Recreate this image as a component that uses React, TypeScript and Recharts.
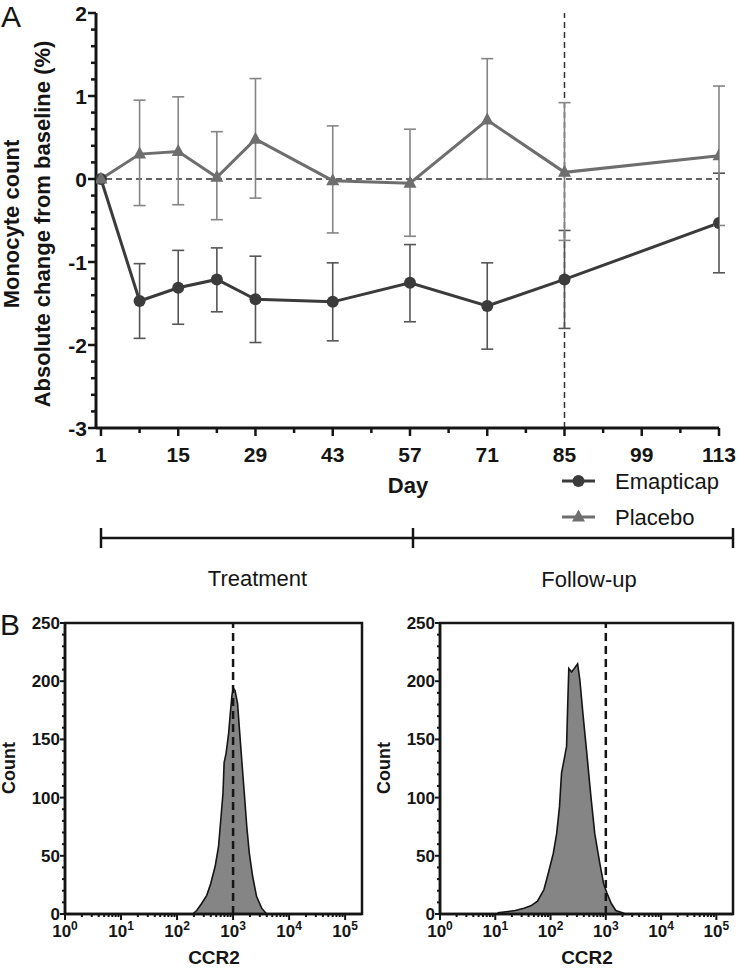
import React from 'react';
import {
  LineChart,
  Line,
  XAxis,
  YAxis,
  ErrorBar,
  ReferenceLine,
  AreaChart,
  Area,
  ReferenceArea,
} from 'recharts';

const FONT = '"Liberation Sans", Arial, Helvetica, sans-serif';
const EMP_COLOR = '#3b3b3b';
const EMP_ERR = '#555555';
const PLA_COLOR = '#6e6e6e';
const PLA_ERR = '#858585';
const INK = '#151515';

// ---- Panel A data ----
const days = [1, 8, 15, 22, 29, 43, 57, 71, 85, 113];
const emapticap = [0, -1.47, -1.31, -1.21, -1.45, -1.48, -1.25, -1.53, -1.21, -0.53];
const emapticapErrLow = [null, 0.45, 0.44, 0.39, 0.52, 0.47, 0.47, 0.52, 0.59, 0.6];
const emapticapErrHigh = [null, 0.45, 0.45, 0.38, 0.52, 0.47, 0.46, 0.52, 0.59, 0.6];
const placebo = [0, 0.3, 0.33, 0.02, 0.48, -0.02, -0.05, 0.71, 0.08, 0.28];
const placeboErrLow = [null, 0.62, 0.64, 0.51, 0.71, 0.63, 0.64, 0.71, 0.82, 0.84];
const placeboErrHigh = [null, 0.65, 0.66, 0.55, 0.73, 0.66, 0.65, 0.74, 0.84, 0.84];

const dayMajorTicks = [1, 15, 29, 43, 57, 71, 85, 99, 113];
const dayMinorTicks = [8, 22, 36, 50, 64, 78, 92, 106];
const yMajorTicks = [-3, -2, -1, 0, 1, 2];
const yMinorTicks = [
  -2.8, -2.6, -2.4, -2.2, -1.8, -1.6, -1.4, -1.2, -0.8, -0.6, -0.4, -0.2,
  0.2, 0.4, 0.6, 0.8, 1.2, 1.4, 1.6, 1.8,
];

// ---- Panel B data (CCR2 intensity, count) ----
const leftCCR2 = [190, 224, 275, 339, 398, 479, 550, 603, 661, 692, 750, 832, 891, 955, 1012, 1084, 1202, 1288, 1429, 1585, 1758, 1950, 2239, 2630, 3236, 3981];
const leftCount = [0, 3, 9, 16, 26, 41, 58, 81, 104, 130, 138, 155, 172, 188, 194, 192, 181, 161, 132, 104, 75, 52, 32, 15, 5, 0];
const rightCCR2 = [11, 23, 33, 44, 58, 76, 91, 112, 129, 145, 158, 178, 195, 204, 214, 240, 269, 309, 339, 389, 447, 537, 631, 776, 912, 1047, 1259, 1514, 1995, 2291];
const rightCount = [1, 3, 5, 7, 11, 21, 35, 52, 69, 92, 121, 134, 144, 178, 211, 208, 211, 215, 201, 170, 141, 101, 69, 44, 26, 18, 9, 3, 1, 0];

const decadeTicks = [1, 10, 100, 1000, 10000, 100000];
const minorMultipliers = [2, 3, 4, 5, 6, 7, 8, 9];
const countMajorTicks = [0, 50, 100, 150, 200, 250];
const countMinorTicks = [10, 20, 30, 40, 60, 70, 80, 90, 110, 120, 130, 140, 160, 170, 180, 190, 210, 220, 230, 240];
const gateCCR2 = 1000;

const lineData = days.map((day, i) => ({
  day,
  emapticap: emapticap[i],
  emapticapErr: emapticapErrLow[i] == null ? null : [emapticapErrLow[i], emapticapErrHigh[i]],
  placebo: placebo[i],
  placeboErr: placeboErrLow[i] == null ? null : [placeboErrLow[i], placeboErrHigh[i]],
}));

const leftData = leftCCR2.map((x, i) => ({ x, c: leftCount[i] }));
const rightData = rightCCR2.map((x, i) => ({ x, c: rightCount[i] }));

const logMinorTicks = decadeTicks.slice(0, 5).flatMap((d) => minorMultipliers.map((m) => m * d));

const DayTick = (props: any) => {
  const { x, y, payload } = props;
  const major = dayMajorTicks.includes(payload.value);
  return (
    <g>
      <line x1={x} y1={y} x2={x} y2={y + (major ? 8 : 5)} stroke={INK} strokeWidth={2.5} />
      {major && (
        <text x={x} y={y + 34} textAnchor="middle" fontSize={21} fontWeight="bold" fontFamily={FONT} fill={INK}>
          {payload.value}
        </text>
      )}
    </g>
  );
};

const ValueTick = (props: any) => {
  const { x, y, payload } = props;
  const major = yMajorTicks.includes(payload.value);
  return (
    <g>
      <line x1={x} y1={y} x2={x - (major ? 8 : 5)} y2={y} stroke={INK} strokeWidth={2.5} />
      {major && (
        <text x={x - 9} y={y + 7.5} textAnchor="end" fontSize={21} fontWeight="bold" fontFamily={FONT} fill={INK}>
          {payload.value}
        </text>
      )}
    </g>
  );
};

const LogTick = (props: any) => {
  const { x, y, payload } = props;
  const major = decadeTicks.includes(payload.value);
  const exp = Math.round(Math.log10(payload.value));
  return (
    <g>
      <line x1={x} y1={y} x2={x} y2={y + (major ? 6 : 3)} stroke={INK} strokeWidth={2} />
      {major && (
        <text x={x} y={y + 23} textAnchor="middle" fontSize={17} fontWeight="bold" fontFamily={FONT} fill={INK}>
          <tspan>10</tspan>
          <tspan dy={-7} fontSize={12}>{exp}</tspan>
        </text>
      )}
    </g>
  );
};

const CountTick = (props: any) => {
  const { x, y, payload } = props;
  const major = countMajorTicks.includes(payload.value);
  return (
    <g>
      <line x1={x} y1={y} x2={x - (major ? 5 : 3)} y2={y} stroke={INK} strokeWidth={2} />
      {major && (
        <text x={x - 5} y={y + 6} textAnchor="end" fontSize={17} fontWeight="bold" fontFamily={FONT} fill={INK}>
          {payload.value}
        </text>
      )}
    </g>
  );
};

const TriangleDot = (props: any) => {
  const { cx, cy, index } = props;
  if (cx == null || cy == null) return <g key={`tn-${index}`} />;
  return (
    <polygon
      key={`t-${index}`}
      points={`${cx},${cy - 7.5} ${cx - 6.5},${cy + 4.5} ${cx + 6.5},${cy + 4.5}`}
      fill={PLA_COLOR}
    />
  );
};

const Histogram = ({ data, left, yAxisWidth, rightMargin }: any) => (
  <div style={{ position: 'absolute', left, top: 600 }}>
    <AreaChart width={370} height={368} data={data} margin={{ top: 23, right: rightMargin, bottom: 0, left: 0 }}>
      <XAxis
        dataKey="x"
        type="number"
        scale="log"
        domain={[1, 200000]}
        allowDataOverflow
        ticks={[...decadeTicks, ...logMinorTicks]}
        interval={0}
        tick={<LogTick />}
        tickLine={false}
        tickSize={0}
        tickMargin={0}
        axisLine={{ stroke: INK, strokeWidth: 2.5 }}
        height={54}
      />
      <YAxis
        type="number"
        domain={[0, 250]}
        ticks={[...countMajorTicks, ...countMinorTicks]}
        interval={0}
        tick={<CountTick />}
        tickLine={false}
        tickSize={0}
        tickMargin={0}
        axisLine={{ stroke: INK, strokeWidth: 2.5 }}
        width={yAxisWidth}
      />
      <Area
        dataKey="c"
        type="linear"
        fill="#858585"
        fillOpacity={1}
        stroke={INK}
        strokeWidth={1.6}
        dot={false}
        activeDot={false}
        isAnimationActive={false}
      />
      <ReferenceLine x={gateCCR2} stroke={INK} strokeWidth={2.5} strokeDasharray="8 5" />
      <ReferenceArea x1={1} x2={200000} y1={0} y2={250} fill="none" stroke={INK} strokeWidth={2.5} ifOverflow="visible" />
    </AreaChart>
  </div>
);

export default function App() {
  return (
    <div style={{ position: 'absolute', left: 0, top: 0, width: 740, height: 968, background: '#fff', fontFamily: FONT }}>
      <div style={{ position: 'absolute', left: 0, top: 0 }}>
        <LineChart width={740} height={470} data={lineData} margin={{ top: 13, right: 21, bottom: 0, left: 0 }}>
          <XAxis
            dataKey="day"
            type="number"
            domain={[0.1, 113]}
            allowDataOverflow
            ticks={[...dayMajorTicks, ...dayMinorTicks]}
            interval={0}
            tick={<DayTick />}
            tickLine={false}
            tickSize={0}
            tickMargin={0}
            axisLine={{ stroke: INK, strokeWidth: 3 }}
            height={42}
          />
          <YAxis
            type="number"
            domain={[-3, 2]}
            allowDataOverflow
            ticks={[...yMajorTicks, ...yMinorTicks]}
            interval={0}
            tick={<ValueTick />}
            tickLine={false}
            tickSize={0}
            tickMargin={0}
            axisLine={{ stroke: INK, strokeWidth: 3 }}
            width={96}
          />
          <ReferenceLine y={0} stroke="#333" strokeWidth={1.5} strokeDasharray="6 4" />
          <ReferenceLine x={85} stroke="#333" strokeWidth={1.5} strokeDasharray="6 4" />
          <Line
            dataKey="emapticap"
            type="linear"
            stroke={EMP_COLOR}
            strokeWidth={3}
            dot={{ r: 6, fill: EMP_COLOR, stroke: 'none' }}
            activeDot={false}
            isAnimationActive={false}
          >
            <ErrorBar dataKey="emapticapErr" direction="y" width={6} stroke={EMP_ERR} strokeWidth={1.6} />
          </Line>
          <Line
            dataKey="placebo"
            type="linear"
            stroke={PLA_COLOR}
            strokeWidth={3}
            dot={<TriangleDot />}
            activeDot={false}
            isAnimationActive={false}
          >
            <ErrorBar dataKey="placeboErr" direction="y" width={6} stroke={PLA_ERR} strokeWidth={1.6} />
          </Line>
        </LineChart>
      </div>

      <Histogram data={leftData} left={0} yAxisWidth={65} rightMargin={8} />
      <Histogram data={rightData} left={370} yAxisWidth={70} rightMargin={7} />

      <svg style={{ position: 'absolute', left: 0, top: 0, pointerEvents: 'none' }} width={740} height={968} fontFamily={FONT}>
        <text x={1} y={27} fontSize={30} fill={INK}>A</text>
        <text x={0} y={635} fontSize={30} fill={INK}>B</text>

        <text transform="rotate(-90, 19, 224)" x={19} y={224} textAnchor="middle" fontSize={22} fontWeight="bold" fill={INK}>
          Monocyte count
        </text>
        <text transform="rotate(-90, 50, 224)" x={50} y={224} textAnchor="middle" fontSize={22} fontWeight="bold" fill={INK}>
          Absolute change from baseline (%)
        </text>
        <text x={408} y={493} textAnchor="middle" fontSize={22} fontWeight="bold" fill={INK}>Day</text>

        <line x1={562} y1={481} x2={595} y2={481} stroke={EMP_COLOR} strokeWidth={3} />
        <circle cx={578.5} cy={481} r={6} fill={EMP_COLOR} />
        <text x={615} y={488.5} fontSize={22} fill={INK}>Emapticap</text>
        <line x1={562} y1={517} x2={595} y2={517} stroke={PLA_COLOR} strokeWidth={3} />
        <polygon points="578.5,509.5 572,521.5 585,521.5" fill={PLA_COLOR} />
        <text x={615} y={525} fontSize={22} fill={INK}>Placebo</text>

        <line x1={101} y1={538} x2={733} y2={538} stroke={INK} strokeWidth={2.5} />
        <line x1={101} y1={528} x2={101} y2={548} stroke={INK} strokeWidth={2.5} />
        <line x1={413} y1={528} x2={413} y2={548} stroke={INK} strokeWidth={2.5} />
        <line x1={733} y1={528} x2={733} y2={548} stroke={INK} strokeWidth={2.5} />
        <text x={257.5} y={586} textAnchor="middle" fontSize={22} fill={INK}>Treatment</text>
        <text x={589} y={587} textAnchor="middle" fontSize={22} fill={INK}>Follow-up</text>

        <text transform="rotate(-90, 15, 768)" x={15} y={768} textAnchor="middle" fontSize={18} fontWeight="bold" fill={INK}>Count</text>
        <text transform="rotate(-90, 390, 768)" x={390} y={768} textAnchor="middle" fontSize={18} fontWeight="bold" fill={INK}>Count</text>
        <text x={214} y={964} textAnchor="middle" fontSize={19} fontWeight="bold" fill={INK}>CCR2</text>
        <text x={587} y={964} textAnchor="middle" fontSize={19} fontWeight="bold" fill={INK}>CCR2</text>
      </svg>
    </div>
  );
}
